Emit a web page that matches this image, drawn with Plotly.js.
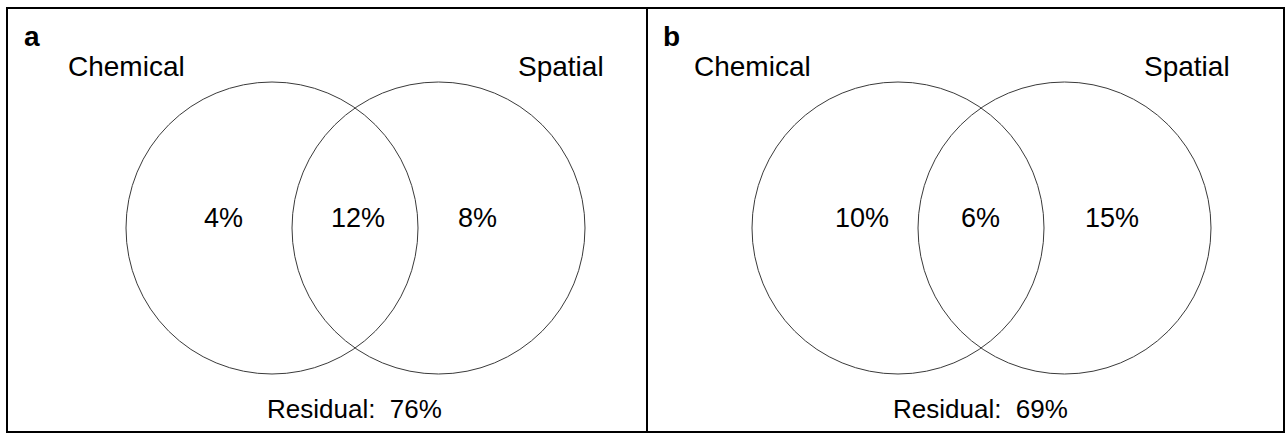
<!DOCTYPE html>
<html>
<head>
<meta charset="utf-8">
<script src="https://cdn.plot.ly/plotly-3.0.1.min.js"></script>
<style>html,body{margin:0;padding:0;background:#fff;}#chart{width:1287px;height:433px;}</style>
</head>
<body>
<div id="chart"></div>
<script>
// Data
const panelLabels = ['a', 'b'];
const setNames = ['Chemical', 'Spatial'];
const chemicalOnly = [4, 10];
const shared = [12, 6];
const spatialOnly = [8, 15];
const residual = [76, 69];

// Layout geometry (page pixel coordinates via hidden axes)
const panelX = [[7, 647], [647, 1284]];
const offsetX = [0, 626];
const pctX = [[223, 358, 477], [862, 980, 1112]];
const font = 'Liberation Sans, Arial, sans-serif';

const shapes = [];
const annotations = [];

function txt(x, y, text, size, anchor) {
  annotations.push({xref: 'x', yref: 'y', x: x, y: y, text: text, showarrow: false,
    xanchor: anchor || 'center', yanchor: 'middle', font: {family: font, size: size, color: '#000'}});
}

panelLabels.forEach((lab, i) => {
  const dx = offsetX[i];
  shapes.push({type: 'rect', xref: 'x', yref: 'y', x0: panelX[i][0], x1: panelX[i][1], y0: 8, y1: 432,
    line: {color: '#000', width: 2}, fillcolor: 'rgba(0,0,0,0)'});
  shapes.push({type: 'circle', xref: 'x', yref: 'y', x0: 126 + dx, x1: 418 + dx, y0: 82, y1: 374,
    line: {color: '#3a3a3a', width: 1}});
  shapes.push({type: 'circle', xref: 'x', yref: 'y', x0: 292 + dx, x1: 585 + dx, y0: 82, y1: 374,
    line: {color: '#3a3a3a', width: 1}});

  txt(22 + (i ? 639 : 0), 36, '<b>' + lab + '</b>', 28, 'left');
  txt(66 + dx, 66, setNames[0], 28, 'left');
  txt(606 + dx, 66, setNames[1], 28, 'right');
  txt(pctX[i][0], 218, chemicalOnly[i] + '%', 27);
  txt(pctX[i][1], 218, shared[i] + '%', 27);
  txt(pctX[i][2], 218, spatialOnly[i] + '%', 27);
  txt(354 + dx, 409, 'Residual:  ' + residual[i] + '%', 26);
});

const layout = {
  width: 1287, height: 433,
  margin: {l: 0, r: 0, t: 0, b: 0, pad: 0},
  paper_bgcolor: '#fff', plot_bgcolor: '#fff',
  showlegend: false,
  xaxis: {range: [0, 1287], visible: false, fixedrange: true, domain: [0, 1]},
  yaxis: {range: [433, 0], visible: false, fixedrange: true, domain: [0, 1]},
  shapes: shapes,
  annotations: annotations
};

Plotly.newPlot('chart', [{x: [], y: [], type: 'scatter', mode: 'markers', hoverinfo: 'skip'}], layout,
  {staticPlot: true, displayModeBar: false});
</script>
</body>
</html>
